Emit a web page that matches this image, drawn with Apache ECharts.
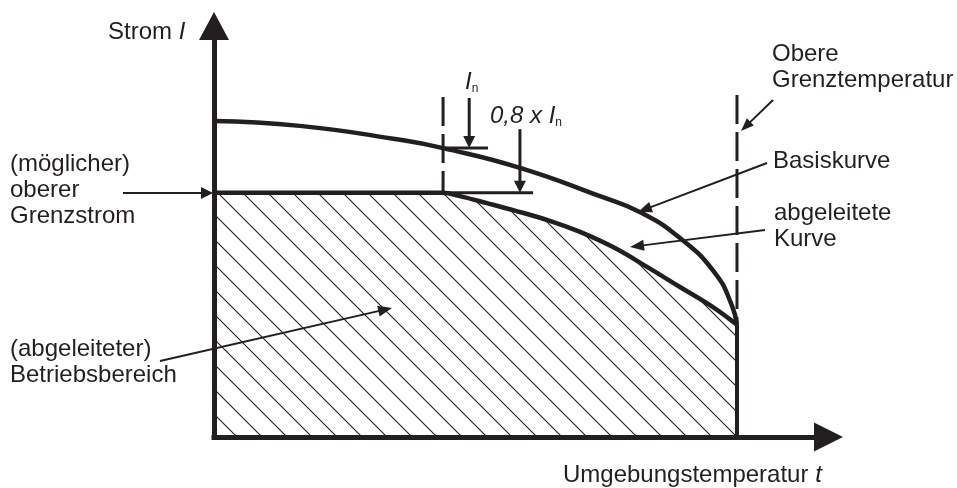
<!DOCTYPE html>
<html>
<head>
<meta charset="utf-8">
<script src="https://cdn.jsdelivr.net/npm/echarts@6/dist/echarts.min.js"></script>
<style>
  html, body { margin: 0; padding: 0; background: #fff; }
  #main { width: 957px; height: 488px; }
</style>
</head>
<body>
<div id="main"></div>
<script>
// Basiskurve (Temperatur t, Strom I)
var basisT = [0, 16.4, 35.6, 43.8, 58.5, 73.8, 81.5, 89.1, 95.8, 99.0, 100];
var basisI = [76.9, 75.7, 72.3, 70.3, 65.5, 58.6, 54.7, 48.4, 39.9, 32.1, 27.3];
// abgeleitete Kurve
var derivedT = [0, 43.8, 47.0, 52.2, 57.2, 64.2, 70.0, 76.3, 82.8, 89.1, 95.4, 100];
var derivedI = [59.4, 59.4, 58.6, 56.9, 55.2, 52.6, 49.9, 46.2, 41.4, 36.5, 31.6, 27.3];

var tMax = 117.5, iMax = 100;
var tLimit = 100;          // obere Grenztemperatur
var tKnee = 43.8;          // Knick der abgeleiteten Kurve
var iLimit = 59.4;         // oberer Grenzstrom
var iKneeBasis = 70.3;     // Basiskurve am Knick
var dashTop = [82.7, 83.2];
var tickEnd = [52.4, 61.0];
var arrowT = [48.8, 58.5];
var arrowTop = [82.5, 74.9];

var INK = '#231f20';
var FONT = '"Liberation Sans", Arial, sans-serif';

function pairs(xs, ys) {
  return xs.map(function (x, i) { return [x, ys[i]]; });
}

// Schraffur fuer den Betriebsbereich
function hatch() {
  var c = document.createElement('canvas');
  c.width = 25; c.height = 25;
  var ctx = c.getContext('2d');
  ctx.strokeStyle = INK;
  ctx.lineWidth = 1.1;
  ctx.beginPath();
  ctx.moveTo(-2, -2); ctx.lineTo(27, 27);
  ctx.moveTo(-2, 23); ctx.lineTo(2, 27);
  ctx.moveTo(23, -2); ctx.lineTo(27, 2);
  ctx.stroke();
  return c;
}

function seg(data, width, type) {
  return {
    type: 'line', data: data, symbol: 'none', silent: true, z: 3,
    lineStyle: { color: INK, width: width, type: type || 'solid' }
  };
}

function axisLine(size) {
  return {
    show: true, symbol: ['none', 'triangle'], symbolSize: size,
    lineStyle: { color: INK, width: 5, cap: 'square' }
  };
}

var chart = echarts.init(document.getElementById('main'));
chart.setOption({
  animation: false,
  backgroundColor: '#fff',
  grid: { left: 214, right: 128.5, top: 26, bottom: 51 },
  xAxis: {
    type: 'value', min: 0, max: tMax,
    axisLine: axisLine([29, 29]),
    axisTick: { show: false }, axisLabel: { show: false }, splitLine: { show: false }
  },
  yAxis: {
    type: 'value', min: 0, max: iMax,
    axisLine: axisLine([30, 28]),
    axisTick: { show: false }, axisLabel: { show: false }, splitLine: { show: false }
  },
  series: [
    {
      type: 'line', data: pairs(derivedT, derivedI), smooth: 0.4, symbol: 'none', silent: true, z: 2,
      lineStyle: { color: INK, width: 4.5 },
      areaStyle: { color: { image: hatch(), repeat: 'repeat' }, opacity: 1 }
    },
    {
      type: 'line', data: pairs(basisT, basisI), smooth: 0.5, symbol: 'none', silent: true, z: 2,
      lineStyle: { color: INK, width: 4.5 }
    },
    seg([[tLimit, 0], [tLimit, basisI[basisI.length - 1]]], 4),
    seg([[tLimit, dashTop[1]], [tLimit, basisI[basisI.length - 1]]], 3, [29, 8]),
    seg([[tKnee, dashTop[0]], [tKnee, iLimit]], 3, [29, 8]),
    seg([[tKnee, iKneeBasis], [tickEnd[0], iKneeBasis]], 3),
    seg([[tKnee, iLimit], [tickEnd[1], iLimit]], 3)
  ]
});

function arrow(p1, p2, len, w, lw) {
  var dx = p2[0] - p1[0], dy = p2[1] - p1[1];
  var d = Math.sqrt(dx * dx + dy * dy);
  var ux = dx / d, uy = dy / d;
  var bx = p2[0] - ux * len, by = p2[1] - uy * len;
  return [
    { type: 'line', z: 10, silent: true,
      shape: { x1: p1[0], y1: p1[1], x2: bx + ux, y2: by + uy },
      style: { stroke: INK, lineWidth: lw } },
    { type: 'polygon', z: 10, silent: true,
      shape: { points: [p2, [bx - uy * w / 2, by + ux * w / 2], [bx + uy * w / 2, by - ux * w / 2]] },
      style: { fill: INK } }
  ];
}

var rich = {
  i: { fontStyle: 'italic', fontSize: 24, fontFamily: FONT, fill: INK, lineHeight: 26 },
  s: { fontSize: 12, fontFamily: FONT, fill: INK, lineHeight: 10, verticalAlign: 'bottom' }
};

function label(x, y, text) {
  return {
    type: 'text', x: x, y: y, z: 10, silent: true,
    style: { text: text, fill: INK, fontSize: 24, fontFamily: FONT, lineHeight: 26,
      verticalAlign: 'top', rich: rich }
  };
}

function px(p) { return chart.convertToPixel({ gridIndex: 0 }, p); }

var g = [];
g.push(label(108, 19, 'Strom {i|I}'));
g.push(label(10, 151, '(möglicher)\noberer\nGrenzstrom'));
g.push(label(10, 336, '(abgeleiteter)\nBetriebsbereich'));
g.push(label(772, 41, 'Obere\nGrenztemperatur'));
g.push(label(773, 148, 'Basiskurve'));
g.push(label(774, 200, 'abgeleitete\nKurve'));
g.push(label(563, 462, 'Umgebungstemperatur {i|t}'));
g.push(label(465, 69, '{i|I}{s|n}'));
g.push(label(490, 103, '{i|0,8 x I}{s|n}'));

g = g.concat(arrow([123, 193], [213, 193], 12, 12, 2));
g = g.concat(arrow([160, 361], [392, 308], 14, 11, 2));
g = g.concat(arrow([773, 100], [741, 131], 13, 10, 2));
g = g.concat(arrow([767, 163], [638, 212], 14, 11, 2));
g = g.concat(arrow([765, 230], [630, 247], 14, 11, 2));
g = g.concat(arrow(px([arrowT[0], arrowTop[0]]), px([arrowT[0], iKneeBasis]), 12, 12, 3));
g = g.concat(arrow(px([arrowT[1], arrowTop[1]]), px([arrowT[1], iLimit]), 12, 12, 3));

chart.setOption({ graphic: g });
</script>
</body>
</html>
